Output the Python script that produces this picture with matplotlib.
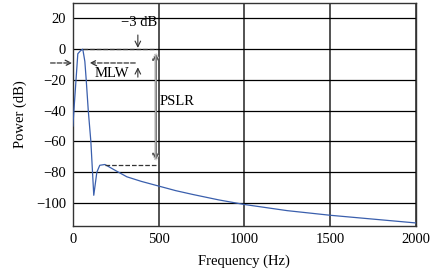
import matplotlib
matplotlib.use('Agg')
import matplotlib.pyplot as plt

plt.rcParams['font.family'] = ['Liberation Serif', 'DejaVu Serif']
plt.rcParams['axes.unicode_minus'] = True

# spectrum
freq = [0, 29, 45, 58, 70, 78, 90, 105, 122, 140, 157, 187, 250, 315, 400, 500,
        600, 700, 850, 1000, 1250, 1500, 1750, 2000]
power = [-50, -3, -1, 0, -8, -20, -40, -60, -95, -80, -75.5, -75, -79, -83, -86, -89,
         -92, -94.5, -98, -101, -105, -108, -110.5, -113]

xticks = [0, 500, 1000, 1500, 2000]
yticks = [20, 0, -20, -40, -60, -80, -100]


def plot_spectrum():
    fig = plt.figure(figsize=(4.31, 2.72), dpi=100)
    ax = fig.add_axes([0.169, 0.169, 0.796, 0.82])

    ax.plot(freq, power, color='#3a5fad', lw=0.9, zorder=3)

    ax.set_xlim(0, 2000)
    ax.set_ylim(-115, 30)
    ax.set_xticks(xticks)
    ax.set_yticks(yticks)
    ax.tick_params(length=0, labelsize=10.5, pad=5)
    ax.grid(axis='y', color='black', lw=0.9)
    ax.grid(axis='x', color='#444444', lw=1.3)
    for s in ax.spines.values():
        s.set_color('#333333')
        s.set_linewidth(1.0)

    ax.set_xlabel('Frequency (Hz)', fontsize=10.5, labelpad=6)
    ax.set_ylabel('Power (dB)', fontsize=10.5, labelpad=6)

    # -3 dB marker
    ax.plot([58, 490], [0, 0], ls='--', color='#333333', lw=0.9, zorder=4)
    ax.text(385, 17, '\u22123 dB', fontsize=10.5, ha='center', va='center')
    ax.annotate('', xy=(379, -1), xytext=(379, 11),
                arrowprops=dict(arrowstyle='->', color='#333333', lw=0.8))

    # main lobe width
    ax.annotate('', xy=(12, -9), xytext=(-146, -9), annotation_clip=False,
                arrowprops=dict(arrowstyle='->', color='#333333', lw=0.9, ls='--'))
    ax.annotate('', xy=(82, -9), xytext=(380, -9),
                arrowprops=dict(arrowstyle='->', color='#333333', lw=0.9, ls='--'))
    ax.text(230, -16, 'MLW', fontsize=10.5, ha='center', va='center')
    ax.annotate('', xy=(379, -10), xytext=(379, -20),
                arrowprops=dict(arrowstyle='->', color='#333333', lw=0.8))

    # peak side lobe ratio
    ax.plot([187, 490], [-75, -75], ls='--', color='#333333', lw=0.9, zorder=4)
    ax.annotate('', xy=(484, 0), xytext=(484, -75),
                arrowprops=dict(arrowstyle='<->', color='#555555', lw=1.6))
    ax.annotate('', xy=(484, 0), xytext=(484, -75),
                arrowprops=dict(arrowstyle='<->', color='white', lw=0.5))
    ax.text(507, -34, 'PSLR', fontsize=10.5, ha='left', va='center')

    fig.savefig('out.png', dpi=100)


if __name__ == '__main__':
    plot_spectrum()
